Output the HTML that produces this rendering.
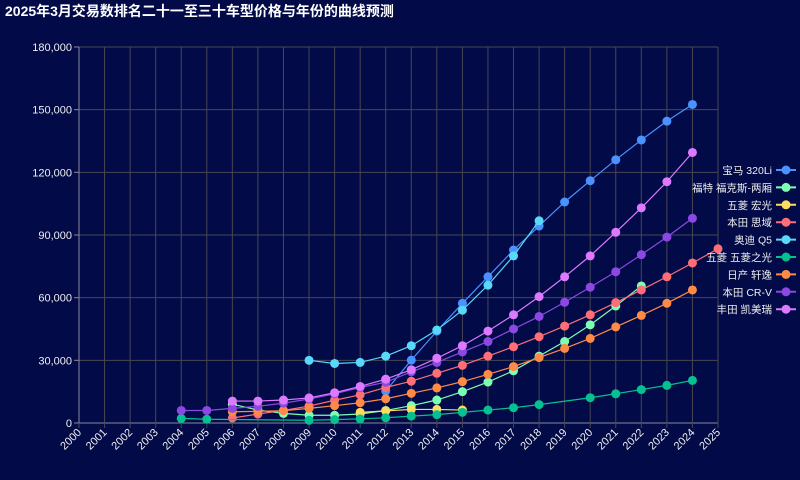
<!DOCTYPE html>
<html><head><meta charset="utf-8"><style>
html,body{margin:0;padding:0;background:#020b47;width:800px;height:480px;overflow:hidden}
svg{display:block;font-family:"Liberation Sans","Noto Sans CJK SC",sans-serif}
</style></head><body>
<svg id="c" width="800" height="480">
<rect width="800" height="480" fill="#020b47"/>
<text x="5" y="16" fill="#ffffff" font-size="14" font-weight="bold">2025年3月交易数排名二十一至三十车型价格与年份的曲线预测</text>
</svg>
<script>
const years = [2000,2001,2002,2003,2004,2005,2006,2007,2008,2009,2010,2011,2012,2013,2014,2015,2016,2017,2018,2019,2020,2021,2022,2023,2024,2025];
const yTicks = [0,30000,60000,90000,120000,150000,180000];
const seriesNames = ["宝马 320Li","福特 福克斯-两厢","五菱 宏光","本田 思域","奥迪 Q5","五菱 五菱之光","日产 轩逸","本田 CR-V","丰田 凯美瑞"];
const seriesColors = ["#4992ff","#7cffb2","#fddd60","#ff6e76","#58d9f9","#05c091","#ff8a45","#8d48e3","#dd79ff"];
const bmw =    [null,null,null,null,null,null,null,null,null,null,null,null,15300,30100,44000,57300,70000,82800,94300,105800,116000,126000,135500,144500,152500,null];
const focus =  [null,null,null,null,null,null,9000,6200,4600,3700,3700,4300,6000,8300,11000,15000,19600,25000,32000,39000,47000,56000,65600,null,null,null];
const hongguang=[null,null,null,null,null,null,null,null,null,null,null,5100,5800,6500,6500,6200,null,null,null,null,null,null,null,null,null,null];
const civic =  [null,null,null,null,null,null,2400,4300,6000,8100,10900,13500,17000,20000,23800,27600,32000,36500,41300,46400,51800,57600,63700,70000,76600,83400];
const q5 =     [null,null,null,null,null,null,null,null,null,30000,28500,29000,32000,37000,44500,54000,66000,80000,96800,null,null,null,null,null,null,null];
const zhiguang=[null,null,null,null,2200,1800,null,null,null,1300,1600,2000,2500,3300,4000,5100,6200,7300,8800,null,12100,14000,16000,18000,20400,null];
const sylphy = [null,null,null,null,null,null,5400,5600,5900,7000,8300,9700,11600,14200,16800,19800,23300,27000,31300,35700,40500,46000,51500,57300,63700,null];
const crv =    [null,null,null,null,6000,6000,7000,8000,9500,11500,14000,17000,19500,24500,29000,34000,39000,45000,51000,57800,65000,72400,80600,89000,98000,null];
const camry =  [null,null,null,null,null,null,10500,10500,11000,12000,14500,17500,21000,25500,31000,37000,44000,51800,60500,70000,80000,91300,103000,115500,129500,null];
const allSeries = [bmw,focus,hongguang,civic,q5,zhiguang,sylphy,crv,camry];
const seriesKeys = ["bmw-320li","ford-focus","wuling-hongguang","honda-civic","audi-q5","wuling-zhiguang","nissan-sylphy","honda-crv","toyota-camry"];

const X0=79,X1=718,Y0=423,Y1=47,YMAX=180000;
const xs = i => X0 + (X1-X0)*i/(years.length-1);
const ys = v => Y0 - (Y0-Y1)*v/YMAX;
const NS="http://www.w3.org/2000/svg";
const svg=document.getElementById('c');
function mk(tag,attrs,parent){const e=document.createElementNS(NS,tag);for(const k in attrs)e.setAttribute(k,attrs[k]);(parent||svg).appendChild(e);return e;}

const grid=mk('g',{});


yTicks.forEach(t=>{
  const l=mk('line',{x1:X0,x2:X1,y1:ys(t),y2:ys(t),stroke:t===0?'#8a8a9a':'#484753','stroke-width':1},grid);
  
  
  const tk=mk('line',{x1:X0-5,x2:X0,y1:ys(t),y2:ys(t),stroke:'#8a8a9a'},grid);
  
  
  const tx=mk('text',{x:X0-7,y:ys(t)+4,fill:'#eeeeee','font-size':11,'text-anchor':'end'},grid);
  tx.textContent=t.toLocaleString('en-US');
  
  
});
years.forEach((yr,i)=>{
  const l=mk('line',{x1:xs(i),x2:xs(i),y1:Y1,y2:Y0+5,stroke:'#484753'},grid);
  
  
  const tx=mk('text',{x:xs(i)+3,y:Y0+10,fill:'#eeeeee','font-size':11,'text-anchor':'end',transform:`rotate(-45 ${xs(i)+3} ${Y0+10})`},grid);
  tx.textContent=yr;
  
  
});
const yax=mk('line',{x1:X0,x2:X0,y1:Y1,y2:Y0,stroke:'#8a8a9a'},grid);



allSeries.forEach((arr,si)=>{
  const g=mk('g',{});
  
  
  const pts=[];
  arr.forEach((v,i)=>{if(v!==null)pts.push([xs(i),ys(v)]);});
  const p=mk('polyline',{points:pts.map(p=>p.join(',')).join(' '),fill:'none',stroke:seriesColors[si],'stroke-width':1.2},g);
  
  
  pts.forEach(pt=>{
    const c=mk('circle',{cx:pt[0],cy:pt[1],r:4.5,fill:seriesColors[si]},g);
    
    
  });
});

const leg=mk('g',{});


seriesNames.forEach((n,i)=>{
  const y=170+i*17.4;
  const it=mk('g',{},leg);
  
  
  const t=mk('text',{x:772,y:y+4,fill:'#eeeeee','font-size':10.5,'text-anchor':'end'},it);
  t.textContent=n;
  
  
  const l=mk('line',{x1:776,x2:796,y1:y,y2:y,stroke:seriesColors[i],'stroke-width':2},it);
  
  
  const c=mk('circle',{cx:786,cy:y,r:4.5,fill:seriesColors[i]},it);
  
  
});
</script>
</body></html>
